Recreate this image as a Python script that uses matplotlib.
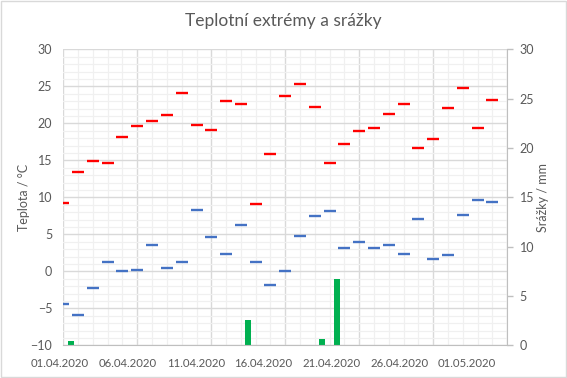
import numpy as np
import matplotlib
matplotlib.use("Agg")
import matplotlib.pyplot as plt
from matplotlib.patches import Rectangle
from matplotlib.ticker import MultipleLocator

plt.rcParams['font.family'] = ['Lato', 'DejaVu Sans']

# Daily data, 01.04.2020 .. 30.04.2020
t_max = [9.2, 13.4, 14.9, 14.7, 18.1, 19.6, 20.3, 21.1, 24.1, 19.8,
         19.1, 23.0, 22.6, 9.1, 15.9, 23.7, 25.3, 22.2, 14.7, 17.2,
         18.9, 19.4, 21.3, 22.6, 16.6, 17.9, 22.1, 24.8, 19.4, 23.2]
t_min = [-4.4, -5.9, -2.3, 1.3, 0.1, 0.2, 3.6, 0.5, 1.3, 8.3,
         4.7, 2.4, 6.2, 1.3, -1.9, 0.1, 4.8, 7.5, 8.1, 3.2,
         3.9, 3.1, 3.6, 2.4, 7.1, 1.7, 2.2, 7.6, 9.7, 9.3]
precip = [0.4, 0, 0, 0, 0, 0, 0, 0, 0, 0,
          0, 0, 2.6, 0, 0, 0, 0, 0.6, 6.7, 0,
          0, 0, 0, 0, 0, 0, 0, 0, 0, 0]
date_labels = ['01.04.2020', '06.04.2020', '11.04.2020', '16.04.2020',
               '21.04.2020', '26.04.2020', '01.05.2020']

title = 'Teplotní extrémy a srážky'
ylabel_left = 'Teplota / °C'
ylabel_right = 'Srážky / mm'

TXT = '#595959'
GRID_MAJ = '#D9D9D9'
GRID_MIN = '#F0F0F0'
AX_LINE = '#BFBFBF'

days = np.arange(len(t_max))

fig = plt.figure(figsize=(5.67, 3.78), dpi=100)
ax = fig.add_axes([63.3 / 567, 1 - 345.3 / 378, 444 / 567, 296 / 378])
ax2 = ax.twinx()

# grid
ax.set_xlim(0, 30)
ax.set_ylim(-10, 30)
ax.xaxis.set_major_locator(MultipleLocator(5))
ax.xaxis.set_minor_locator(MultipleLocator(1))
ax.yaxis.set_major_locator(MultipleLocator(5))
ax.yaxis.set_minor_locator(MultipleLocator(1))
ax.grid(which='minor', color=GRID_MIN, lw=0.9)
ax.grid(which='major', color=GRID_MAJ, lw=1.0)
ax.set_axisbelow(True)
ax.tick_params(axis='x', which='both', length=0, labelbottom=False)
ax.tick_params(axis='y', which='both', length=0, labelsize=9, colors=TXT, pad=8)

# dashes
ax.plot(days, t_max, ls='none', marker='_', ms=8.6, mew=1.7, color='#FF0000', zorder=3)
ax.plot(days, t_min, ls='none', marker='_', ms=8.6, mew=1.7, color='#4472C4', zorder=3)

# precipitation bars (right axis)
ax2.bar(days + 0.5, precip, width=0.4, color='#00B050', zorder=2)
ax2.set_ylim(0, 30)
ax2.yaxis.set_major_locator(MultipleLocator(5))
ax2.tick_params(axis='y', length=4, width=1, color=AX_LINE, labelsize=9,
                labelcolor=TXT, pad=5)

for a in (ax, ax2):
    for s in a.spines.values():
        s.set_visible(False)
ax2.spines['right'].set_visible(True)
ax2.spines['right'].set_color(AX_LINE)
ax2.spines['bottom'].set_visible(True)
ax2.spines['bottom'].set_color(AX_LINE)

# date labels (Excel places them slightly off the gridlines)
label_pos = -0.22 + 4.585 * np.arange(len(date_labels))
for p, lab in zip(label_pos, date_labels):
    ax.annotate(lab, xy=(p, 0), xycoords=('data', 'axes fraction'),
                xytext=(0, -9), textcoords='offset points',
                ha='center', va='top', fontsize=8.2, color=TXT,
                annotation_clip=False)

ax.set_ylabel(ylabel_left, color=TXT, fontsize=9, labelpad=0)
ax2.set_ylabel(ylabel_right, color=TXT, fontsize=9, labelpad=2)

fig.text(283 / 567, 1 - 21 / 378, title, ha='center', va='center',
         fontsize=12.5, color=TXT)

fig.patches.append(Rectangle((0.001, 0.002), 0.997, 0.995, transform=fig.transFigure,
                             fill=False, edgecolor=GRID_MAJ, lw=1))

fig.savefig('out.png', dpi=100)
